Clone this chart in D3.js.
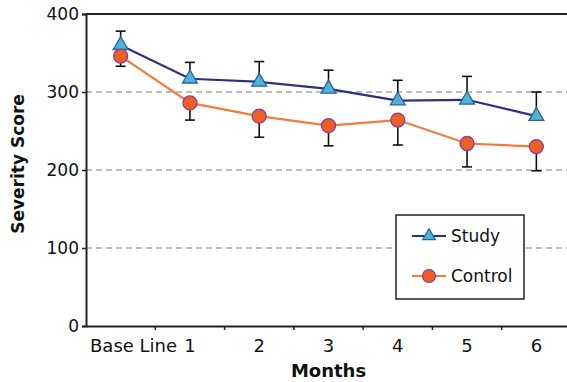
<!DOCTYPE html>
<html>
<head>
<meta charset="utf-8">
<script src="https://cdn.jsdelivr.net/npm/d3@7"></script>
<style>
  html, body { margin: 0; padding: 0; background: #fff; }
  svg { display: block; font-family: "DejaVu Sans", sans-serif; }
</style>
</head>
<body>
<svg id="chart" width="567" height="382"></svg>
<script>
// Monthly severity scores for the two groups
const categories = ["Base Line", "1", "2", "3", "4", "5", "6"];
const studyValues = [360, 317, 313, 304, 289, 290, 269];
const studyErrorUp = [18, 21, 26, 24, 26, 30, 31];
const controlValues = [346, 286, 269, 257, 264, 234, 230];
const controlErrorDown = [13, 22, 27, 26, 32, 30, 31];
const yTicks = [0, 100, 200, 300, 400];
const seriesNames = ["Study", "Control"];

const svg = d3.select("#chart");
const plotLeft = 86, plotRight = 571, plotTop = 14, plotBottom = 326;

const x = d3.scaleBand().domain(categories).range([plotLeft, plotRight]).paddingInner(0).paddingOuter(0);
const y = d3.scaleLinear().domain([0, 400]).range([plotBottom, plotTop]);
const cx = c => x(c) + x.bandwidth() / 2;

// dashed gridlines
svg.append("g").selectAll("line")
  .data(yTicks.filter(t => t > 0 && t < 400))
  .join("line")
  .attr("x1", plotLeft).attr("x2", plotRight)
  .attr("y1", d => y(d)).attr("y2", d => y(d))
  .attr("stroke", "#a8a8a8").attr("stroke-width", 1.5)
  .attr("stroke-dasharray", "6,4");

// top frame
svg.append("line")
  .attr("x1", plotLeft).attr("x2", plotRight)
  .attr("y1", y(400)).attr("y2", y(400))
  .attr("stroke", "#222").attr("stroke-width", 2);

// y axis
const yAxis = svg.append("g")
  .attr("transform", `translate(${plotLeft},0)`)
  .call(d3.axisLeft(y).tickValues(yTicks).tickSize(4).tickPadding(3).tickFormat(d3.format("d")));
yAxis.select(".domain").attr("stroke", "#222").attr("stroke-width", 2);
yAxis.selectAll(".tick line").attr("stroke", "#222").attr("stroke-width", 1.5);
yAxis.selectAll("text").attr("font-size", 17).attr("fill", "#111")
  .attr("font-family", "DejaVu Sans, sans-serif");

// x axis with ticks between categories
const xAxis = svg.append("g")
  .attr("transform", `translate(0,${plotBottom})`)
  .call(d3.axisBottom(x).tickSize(0).tickPadding(13));
xAxis.select(".domain").attr("stroke", "#222").attr("stroke-width", 2);
xAxis.selectAll("text").attr("font-size", 18).attr("fill", "#111")
  .attr("font-family", "DejaVu Sans, sans-serif");
// first label starts just inside the axis
xAxis.selectAll(".tick text").filter(d => d === categories[0])
  .attr("text-anchor", "start")
  .attr("x", plotLeft + 4 - cx(categories[0]));
svg.append("g").selectAll("line")
  .data(categories.slice(1))
  .join("line")
  .attr("x1", d => x(d)).attr("x2", d => x(d))
  .attr("y1", plotBottom).attr("y2", plotBottom + 4)
  .attr("stroke", "#222").attr("stroke-width", 1.5);

// axis titles
svg.append("text")
  .attr("transform", `translate(24,164) rotate(-90)`)
  .attr("text-anchor", "middle")
  .attr("font-size", 17).attr("font-weight", "bold").attr("fill", "#111")
  .text("Severity Score");
svg.append("text")
  .attr("x", cx("3")).attr("y", 377)
  .attr("text-anchor", "middle")
  .attr("font-size", 18).attr("font-weight", "bold").attr("fill", "#111")
  .text("Months");

const studyColor = "#2e2f7e", controlColor = "#f47a3a";
const triFill = "#4cb6d2", triStroke = "#2d5eaa";
const dotFill = "#f05f22", dotStroke = "#8b3c98";

const line = d3.line().x(d => cx(d.c)).y(d => y(d.v));
const study = categories.map((c, i) => ({ c, v: studyValues[i], e: studyErrorUp[i] }));
const control = categories.map((c, i) => ({ c, v: controlValues[i], e: controlErrorDown[i] }));

function errorBars(data, dir) {
  const g = svg.append("g").attr("stroke", "#111").attr("stroke-width", 1.6);
  g.selectAll("line.v").data(data).join("line").attr("class", "v")
    .attr("x1", d => cx(d.c)).attr("x2", d => cx(d.c))
    .attr("y1", d => y(d.v)).attr("y2", d => y(d.v + dir * d.e));
  g.selectAll("line.cap").data(data).join("line").attr("class", "cap")
    .attr("x1", d => cx(d.c) - 5).attr("x2", d => cx(d.c) + 5)
    .attr("y1", d => y(d.v + dir * d.e)).attr("y2", d => y(d.v + dir * d.e));
}

const tri = d3.symbol().type(d3.symbolTriangle).size(95);

// Study series
errorBars(study, 1);
svg.append("path").datum(study).attr("d", line)
  .attr("fill", "none").attr("stroke", studyColor).attr("stroke-width", 2.2);
svg.append("g").selectAll("path").data(study).join("path")
  .attr("d", tri)
  .attr("transform", d => `translate(${cx(d.c)},${y(d.v)})`)
  .attr("fill", triFill).attr("stroke", triStroke).attr("stroke-width", 1.3);

// Control series
errorBars(control, -1);
svg.append("path").datum(control).attr("d", line)
  .attr("fill", "none").attr("stroke", controlColor).attr("stroke-width", 2.2);
svg.append("g").selectAll("circle").data(control).join("circle")
  .attr("cx", d => cx(d.c)).attr("cy", d => y(d.v)).attr("r", 7)
  .attr("fill", dotFill).attr("stroke", dotStroke).attr("stroke-width", 1.3);

// legend
const lg = svg.append("g");
lg.append("rect").attr("x", 396).attr("y", 215).attr("width", 128).attr("height", 84)
  .attr("fill", "#fff").attr("stroke", "#222").attr("stroke-width", 1.5);
const rows = [
  { name: seriesNames[0], color: studyColor, y: 236 },
  { name: seriesNames[1], color: controlColor, y: 276 }
];
rows.forEach((r, i) => {
  lg.append("line").attr("x1", 412).attr("x2", 446).attr("y1", r.y).attr("y2", r.y)
    .attr("stroke", r.color).attr("stroke-width", 2);
  if (i === 0) {
    lg.append("path").attr("d", d3.symbol().type(d3.symbolTriangle).size(70))
      .attr("transform", `translate(429,${r.y})`)
      .attr("fill", triFill).attr("stroke", triStroke).attr("stroke-width", 1.2);
  } else {
    lg.append("circle").attr("cx", 429).attr("cy", r.y).attr("r", 6.5)
      .attr("fill", dotFill).attr("stroke", dotStroke).attr("stroke-width", 1.2);
  }
  lg.append("text").attr("x", 451).attr("y", r.y + 6)
    .attr("font-size", 17).attr("fill", "#111").text(r.name);
});
</script>
</body>
</html>
